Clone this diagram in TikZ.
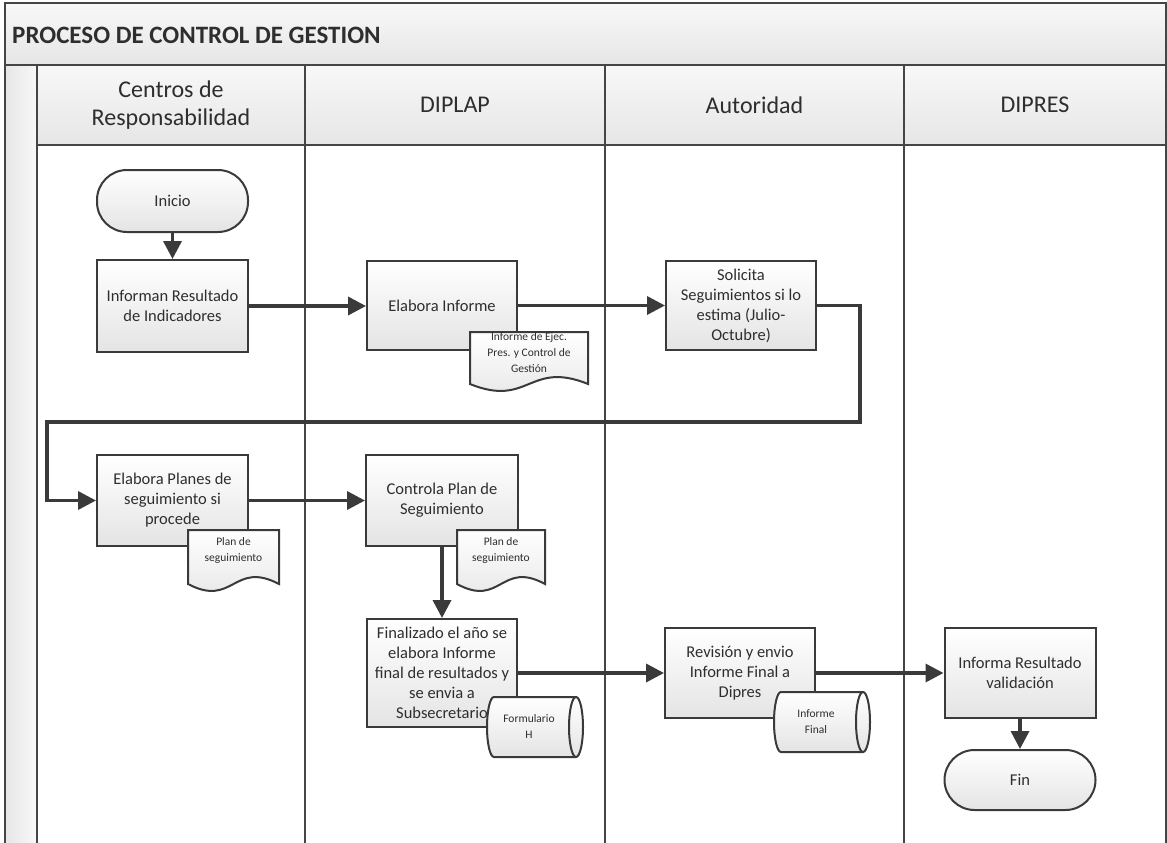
\documentclass[tikz,border=0pt]{standalone}
\usepackage{fontspec}
\setmainfont{Carlito}
\usetikzlibrary{arrows.meta}
\definecolor{edge}{HTML}{3A3A3A}
\definecolor{lane}{HTML}{454545}
\definecolor{boxgray}{HTML}{E4E4E4}
\definecolor{bandtop}{HTML}{F8F8F8}
\definecolor{bandbot}{HTML}{E6E6E6}
\definecolor{txt}{HTML}{2E2E2E}
\newcommand\drawdoc[4]{%
  \filldraw[docshape] (#1,#2) -- (#3,#2) -- (#3,#4)
    .. controls ({(#1+#3)/2},{#4-24}) and ({(#1+#3)/2},{#4+24}) .. (#1,#4) -- cycle;}
\newcommand\drawcyl[3]{%
  \filldraw[docshape] ({#1+7},#2) -- ({#3-7},#2)
    arc[start angle=90,end angle=-90,x radius=7pt,y radius=30pt]
    -- ({#1+7},{#2+60})
    arc[start angle=270,end angle=90,x radius=7pt,y radius=30pt] -- cycle;
  \draw[docline] ({#3-7},#2) arc[start angle=90,end angle=270,x radius=7pt,y radius=30pt];}
\begin{document}
\begin{tikzpicture}[x=1pt,y=-1pt,
  box/.style={draw=edge, line width=2pt, top color=white, bottom color=boxgray,
    minimum width=150pt, minimum height=90pt, align=center, text=txt,
    font={\fontsize{16.5}{20}\selectfont}, inner sep=2pt},
  term/.style={box, rounded corners=30pt, minimum height=62pt},
  header/.style={align=center, text=txt, font={\fontsize{24}{28}\selectfont}},
  doctext/.style={align=center, text=txt, font={\fontsize{11.5}{16}\selectfont}, inner sep=0pt},
  docshape/.style={draw=edge, line width=2pt, top color=white, bottom color=boxgray},
  docline/.style={draw=edge, line width=2pt},
  flow/.style={draw=edge, line width=3.5pt, -{Triangle[length=18pt,width=18pt]}},
  flowline/.style={draw=edge, line width=3.5pt},
  laneline/.style={draw=lane, line width=1.6pt}]
\useasboundingbox (0,0) rectangle (1167,843);
\fill[white] (0,0) rectangle (1167,843);
% bands
\shade[top color=bandtop, bottom color=bandbot] (5,3) rectangle (1167,65);
\shade[top color=bandtop, bottom color=bandbot] (37,65) rectangle (1167,145);
\shade[left color=bandbot, right color=bandtop] (5,65) rectangle (37,843);
% frame and lanes
\draw[draw=lane, line width=2pt] (5,845) -- (5,3) -- (1166,3) -- (1166,845);
\draw[laneline, line width=2pt] (5,65) -- (1167,65);
\draw[laneline, line width=2pt] (37,145) -- (1167,145);
\foreach \lx in {37,305,605,904} \draw[laneline] (\lx,65) -- (\lx,845);
% title and headers
\node[anchor=west, inner sep=0pt, text=txt, font={\bfseries\fontsize{25}{30}\selectfont}] (title) at (12,35) {PROCESO DE CONTROL DE GESTION};
\node[header] (h1) at (171,105) {Centros de\\Responsabilidad};
\node[header] (h2) at (455,105) {DIPLAP};
\node[header] (h3) at (754.5,105) {Autoridad};
\node[header] (h4) at (1035,105) {DIPRES};
% nodes
\node[term, minimum width=151pt] (inicio) at (172.5,201) {Inicio};
\node[box, minimum width=151pt, minimum height=92pt] (informan) at (172.5,306) {Informan Resultado\\de Indicadores};
\node[box, minimum height=89pt] (elabora) at (442,305.5) {Elabora Informe};
\node[box, minimum height=89pt] (solicita) at (741,305.5) {Solicita\\Seguimientos si lo\\estima (Julio-\\Octubre)};
\node[box, minimum width=151pt, minimum height=91pt] (planes) at (172.5,500.5) {Elabora Planes de\\seguimiento si\\procede};
\node[box, minimum width=152pt, minimum height=91pt] (controla) at (442,500.5) {Controla Plan de\\Seguimiento};
\node[box, minimum height=108pt] (final) at (442,673) {Finalizado el año se\\elabora Informe\\final de resultados y\\se envia a\\Subsecretario};
\node[box] (revision) at (740,673) {Revisión y envio\\Informe Final a\\Dipres};
\node[box, minimum width=151pt] (informa) at (1020,673) {Informa Resultado\\validación};
\node[term, minimum width=151pt, minimum height=60pt] (fin) at (1020,780) {Fin};
% connectors
\coordinate (c1) at (860,422);
\coordinate (c2) at (47,422);
\draw[flow] (inicio) -- (informan);
\draw[flow] (informan.east) -- (informan.east -| elabora.west);
\draw[flow] (elabora) -- (solicita);
\draw[flow] (solicita.east) -| (c1) -- (c2) |- (planes.west);
\draw[flow] (planes) -- (controla);
\draw[flow] (controla.south) -- (controla.south |- final.north);
\draw[flow] (final) -- (revision);
\draw[flow] (revision) -- (informa);
\draw[flow] (informa) -- (fin);
% documents
\drawdoc{470}{332}{588}{384}
\node[doctext] (doc1) at (529,353) {Informe de Ejec.\\Pres. y Control de\\Gestión};
\drawdoc{188}{530}{279}{584}
\node[doctext] (doc2) at (233.5,550) {Plan de\\seguimiento};
\drawdoc{457}{530}{545}{584}
\node[doctext] (doc3) at (501,550) {Plan de\\seguimiento};
\drawcyl{487}{697}{583}
\node[doctext] (cyl1) at (529,726) {Formulario\\H};
\drawcyl{774}{692}{870}
\node[doctext] (cyl2) at (816,722) {Informe\\Final};
\end{tikzpicture}
\end{document}
